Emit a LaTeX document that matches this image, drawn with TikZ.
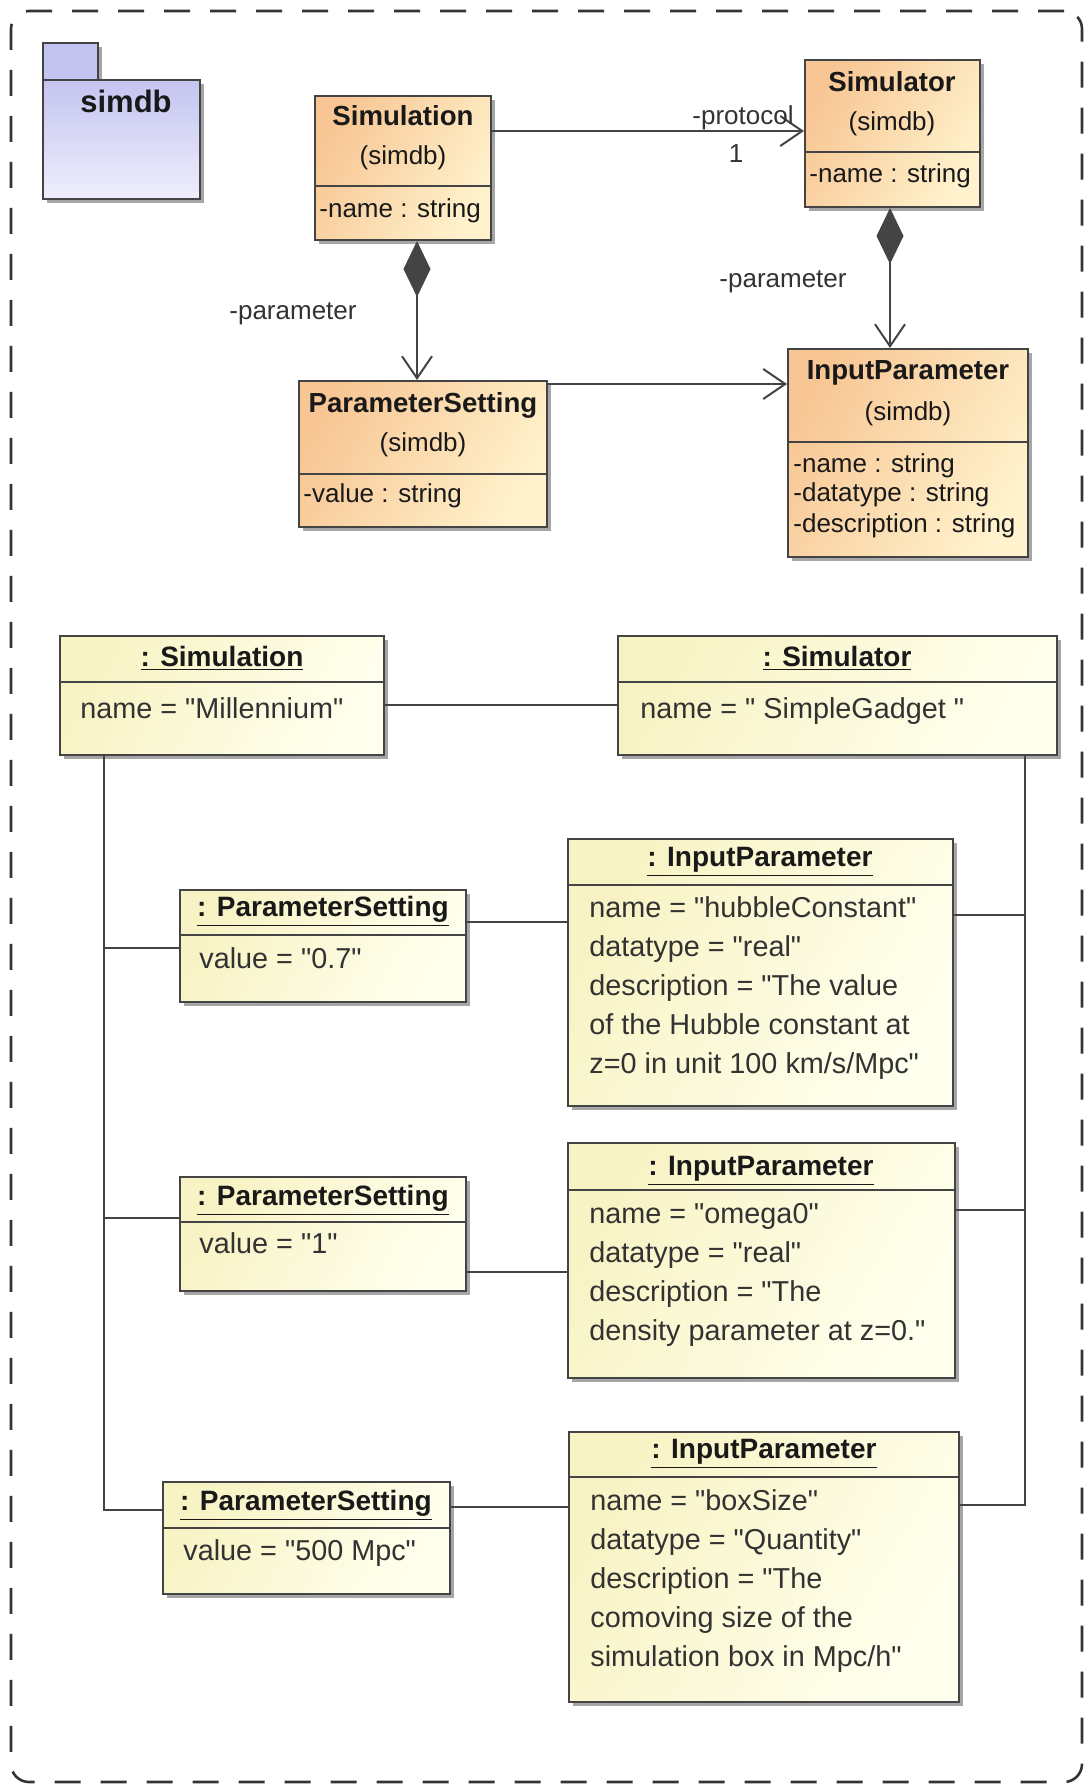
\documentclass[tikz,border=0pt]{standalone}
\usepackage{fontspec}
\setmainfont{Liberation Sans}
\newfontfamily\lsans{Liberation Sans}[Ligatures=ResetAll]
\usetikzlibrary{arrows.meta,fit,shadows}
\definecolor{clsA}{RGB}{248,198,148}
\definecolor{clsB}{RGB}{255,242,204}
\definecolor{objA}{RGB}{248,243,196}
\definecolor{objB}{RGB}{255,255,238}
\definecolor{pkgA}{RGB}{196,196,240}
\definecolor{pkgB}{RGB}{238,238,252}
\definecolor{edgec}{RGB}{68,68,68}
\definecolor{txt}{RGB}{25,25,25}
\definecolor{otxt}{RGB}{50,50,50}
\begin{document}
\begin{tikzpicture}[x=0.5pt,y=-0.5pt,
  box/.style={draw=edgec, line width=1pt, inner sep=0pt,
    drop shadow={shadow xshift=2pt,shadow yshift=-2pt,fill=black,opacity=0.35}},
  clsbox/.style={box, left color=clsA, right color=clsB, shading angle=60},
  objbox/.style={box, left color=objA, right color=objB, shading angle=60},
  pkgbox/.style={box, top color=pkgB, bottom color=pkgA, shading angle=180},
  frame/.style={draw=black!80, line width=1.3pt, dash pattern=on 13pt off 10pt,
    rounded corners=9pt, inner sep=0pt},
  sepline/.style={draw=edgec, line width=1pt},
  conn/.style={draw=edgec, line width=1pt},
  opentip/.style={-{Straight Barb[length=11pt,width=15pt]}},
  compline/.style={{Diamond[length=28pt,width=13.5pt]}-{Straight Barb[length=11pt,width=15pt]}},
  clsname/.style={font=\lsans\fontsize{13.8}{16}\selectfont\bfseries, text=txt, anchor=mid, inner sep=0pt},
  clspkg/.style={font=\lsans\fontsize{13}{15}\selectfont, text=txt, anchor=mid, inner sep=0pt},
  attr/.style={font=\lsans\fontsize{13}{15}\selectfont, text=txt, anchor=mid west, inner sep=0pt},
  lbl/.style={font=\lsans\fontsize{13}{15}\selectfont, text=otxt, anchor=mid, inner sep=0pt},
  objtitle/.style={font=\lsans\fontsize{14}{16}\selectfont\bfseries, text=txt, anchor=mid, inner sep=0pt},
  objtext/.style={font=\lsans\fontsize{14.4}{17}\selectfont, text=otxt, anchor=mid west, inner sep=0pt},
  pkgname/.style={font=\lsans\fontsize{15.5}{18}\selectfont\bfseries, text=txt, anchor=mid, inner sep=0pt}
]
\useasboundingbox (0,0) rectangle (1087,1787);
\node[frame, fit={(11,11)(1082,1782)}] (frame) {};

% package
\node[pkgbox, top color=pkgA, bottom color=pkgA, fit={(43,43)(98,80)}] (pkgtab) {};
\node[pkgbox, fit={(43,80)(200,199)}] (pkg) {};
\node[pkgname] (pkgn) at (126,107) {simdb};

% ---------- class diagram ----------
\node[clsbox, fit={(315,96)(491,240)}] (simc) {};
\draw[sepline] (simc.west |- 0,186) -- (simc.east |- 0,186);
\node[clsname] (simcn) at (403,120) {Simulation};
\node[clspkg] (simcp) at (403,159) {(simdb)};
\node[attr] (simca) at (319,212) {-name : string};

\node[clsbox, fit={(805,60)(980,207)}] (simr) {};
\draw[sepline] (simr.west |- 0,152) -- (simr.east |- 0,152);
\node[clsname] (simrn) at (892,86) {Simulator};
\node[clspkg] (simrp) at (892,125) {(simdb)};
\node[attr] (simra) at (809,177) {-name : string};

\node[clsbox, fit={(299,381)(547,527)}] (psc) {};
\draw[sepline] (psc.west |- 0,474) -- (psc.east |- 0,474);
\node[clsname] (pscn) at (423,407) {ParameterSetting};
\node[clspkg] (pscp) at (423,446) {(simdb)};
\node[attr] (psca) at (303,497) {-value : string};

\node[clsbox, fit={(788,349)(1028,557)}] (ipc) {};
\draw[sepline] (ipc.west |- 0,442) -- (ipc.east |- 0,442);
\node[clsname] (ipcn) at (908,374) {InputParameter};
\node[clspkg] (ipcp) at (908,415) {(simdb)};
\node[attr] (ipca1) at (793,467) {-name : string};
\node[attr] (ipca2) at (793,496) {-datatype : string};
\node[attr] (ipca3) at (793,527) {-description : string};

% class connectors
\coordinate (ya) at (0,131);
\draw[conn, opentip] (simc.east |- ya) -- (simr.west |- ya);
\node[lbl] (lprot) at (743,119) {-protocol};
\node[lbl] (lone) at (736,157) {1};

\coordinate (yb) at (0,384);
\draw[conn, opentip] (psc.east |- yb) -- (ipc.west |- yb);

\coordinate (xc) at (417,0);
\draw[conn, compline, fill=edgec] (simc.south -| xc) -- (psc.north -| xc);
\node[lbl] (lpar1) at (293,314) {-parameter};

\coordinate (xd) at (890,0);
\draw[conn, compline, fill=edgec] (simr.south -| xd) -- (ipc.north -| xd);
\node[lbl] (lpar2) at (783,282) {-parameter};

% ---------- object diagram ----------
\node[objbox, fit={(60,636)(384,755)}] (simo) {};
\draw[sepline] (simo.west |- 0,682) -- (simo.east |- 0,682);
\node[objtitle] (simot) at (222,661) {\underline{: Simulation}};
\node[objtext] (simov) at (80,713) {name = "Millennium"};

\node[objbox, fit={(618,636)(1057,755)}] (simro) {};
\draw[sepline] (simro.west |- 0,682) -- (simro.east |- 0,682);
\node[objtitle] (simrot) at (837,661) {\underline{: Simulator}};
\node[objtext] (simrov) at (640,713) {name = " SimpleGadget "};

\coordinate (yc) at (0,705);
\draw[conn] (simo.east |- yc) -- (simro.west |- yc);

% parameter setting 1 / input parameter 1
\node[objbox, fit={(180,890)(466,1002)}] (ps1) {};
\draw[sepline] (ps1.west |- 0,935) -- (ps1.east |- 0,935);
\node[objtitle] (ps1t) at (323,911) {\underline{: ParameterSetting}};
\node[objtext] (ps1v) at (199,963) {value = "0.7"};

\node[objbox, fit={(568,839)(953,1106)}] (ip1) {};
\draw[sepline] (ip1.west |- 0,885) -- (ip1.east |- 0,885);
\node[objtitle] (ip1t) at (760,861) {\underline{: InputParameter}};
\node[objtext] (ip1a) at (589,912) {name = "hubbleConstant"};
\node[objtext] (ip1b) at (589,951) {datatype = "real"};
\node[objtext] (ip1c) at (589,990) {description = "The value};
\node[objtext] (ip1d) at (589,1029) {of the Hubble constant at};
\node[objtext] (ip1e) at (589,1068) {z=0 in unit 100 km/s/Mpc"};

\coordinate (y1) at (0,922);
\draw[conn] (ps1.east |- y1) -- (ip1.west |- y1);

% parameter setting 2 / input parameter 2
\node[objbox, fit={(180,1177)(466,1291)}] (ps2) {};
\draw[sepline] (ps2.west |- 0,1222) -- (ps2.east |- 0,1222);
\node[objtitle] (ps2t) at (323,1200) {\underline{: ParameterSetting}};
\node[objtext] (ps2v) at (199,1248) {value = "1"};

\node[objbox, fit={(568,1143)(955,1378)}] (ip2) {};
\draw[sepline] (ip2.west |- 0,1190) -- (ip2.east |- 0,1190);
\node[objtitle] (ip2t) at (761,1170) {\underline{: InputParameter}};
\node[objtext] (ip2a) at (589,1218) {name = "omega0"};
\node[objtext] (ip2b) at (589,1257) {datatype = "real"};
\node[objtext] (ip2c) at (589,1296) {description = "The};
\node[objtext] (ip2d) at (589,1335) {density parameter at z=0."};

\coordinate (y2) at (0,1272);
\draw[conn] (ps2.east |- y2) -- (ip2.west |- y2);

% parameter setting 3 / input parameter 3
\node[objbox, fit={(163,1482)(450,1594)}] (ps3) {};
\draw[sepline] (ps3.west |- 0,1528) -- (ps3.east |- 0,1528);
\node[objtitle] (ps3t) at (306,1505) {\underline{: ParameterSetting}};
\node[objtext] (ps3v) at (183,1555) {value = "500 Mpc"};

\node[objbox, fit={(569,1432)(959,1702)}] (ip3) {};
\draw[sepline] (ip3.west |- 0,1477) -- (ip3.east |- 0,1477);
\node[objtitle] (ip3t) at (764,1453) {\underline{: InputParameter}};
\node[objtext] (ip3a) at (590,1505) {name = "boxSize"};
\node[objtext] (ip3b) at (590,1544) {datatype = "Quantity"};
\node[objtext] (ip3c) at (590,1583) {description = "The};
\node[objtext] (ip3d) at (590,1622) {comoving size of the};
\node[objtext] (ip3e) at (590,1661) {simulation box in Mpc/h"};

\coordinate (y3) at (0,1507);
\draw[conn] (ps3.east |- y3) -- (ip3.west |- y3);

% trunks
\coordinate (xl) at (104,0);
\coordinate (xr) at (1025,0);
\coordinate (yl1) at (0,948);
\coordinate (yl2) at (0,1218);
\coordinate (yl3) at (0,1510);
\coordinate (yr1) at (0,915);
\coordinate (yr2) at (0,1210);
\coordinate (yr3) at (0,1505);
\draw[conn] (simo.south -| xl) |- (ps3.west |- yl3);
\draw[conn] (xl |- yl1) -- (ps1.west |- yl1);
\draw[conn] (xl |- yl2) -- (ps2.west |- yl2);
\draw[conn] (simro.south -| xr) |- (ip3.east |- yr3);
\draw[conn] (xr |- yr1) -- (ip1.east |- yr1);
\draw[conn] (xr |- yr2) -- (ip2.east |- yr2);
\end{tikzpicture}
\end{document}
